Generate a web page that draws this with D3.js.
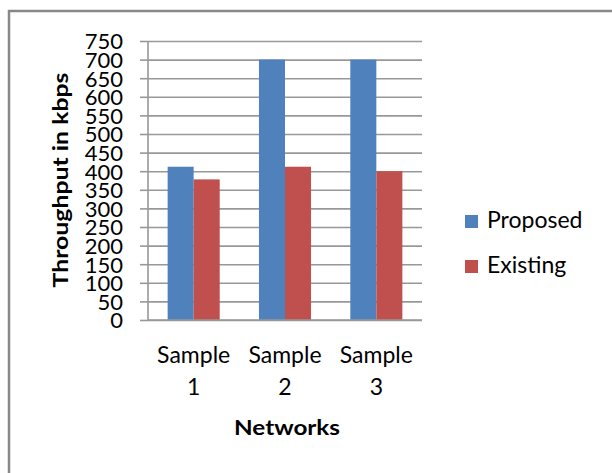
<!DOCTYPE html>
<html>
<head>
<meta charset="utf-8">
<script src="https://cdn.jsdelivr.net/npm/d3@7/dist/d3.min.js"></script>
<style>
  html, body { margin: 0; padding: 0; background: #fff; }
  svg { display: block; }
  text { font-family: Lato, "Open Sans", sans-serif; fill: #000; }
</style>
</head>
<body>
<svg id="chart" width="612" height="473"></svg>
<script>
// Throughput per network sample
const categories = ["Sample 1", "Sample 2", "Sample 3"];
const seriesNames = ["Proposed", "Existing"];
const proposed = [412, 700, 700];
const existing = [378, 412, 400];
const yTicks = [0, 50, 100, 150, 200, 250, 300, 350, 400, 450, 500, 550, 600, 650, 700, 750];
const colors = ["#4f81bd", "#c0504d"];

const svg = d3.select("#chart");

// chart-area frame (left and top edges)
svg.append("path")
  .attr("d", "M9,473 V11 H612")
  .attr("fill", "none")
  .attr("stroke", "#888")
  .attr("stroke-width", 2.5);

const plot = { left: 148, right: 422, top: 41, bottom: 320 };

const x0 = d3.scaleBand().domain(categories)
  .range([plot.left, plot.right]).paddingInner(0.43).paddingOuter(0.215);
const x1 = d3.scaleBand().domain(seriesNames).range([0, x0.bandwidth()]);
const y = d3.scaleLinear().domain([0, 750]).range([plot.bottom, plot.top]);

// horizontal gridlines with tick labels
const yAxis = d3.axisLeft(y).tickValues(yTicks)
  .tickSize(-(plot.right - plot.left)).tickPadding(0).tickFormat(d3.format("d"));
const gy = svg.append("g").attr("transform", `translate(${plot.left},0)`).call(yAxis);
gy.select(".domain").remove();
gy.selectAll(".tick line").attr("stroke", "#989898").attr("stroke-width", 1.6);
// short outside tick marks
gy.selectAll(".tick").append("line")
  .attr("x1", -8).attr("x2", 0)
  .attr("stroke", "#989898").attr("stroke-width", 1.6);
gy.selectAll(".tick text")
  .attr("x", -25)
  .attr("dy", "0.36em")
  .style("font-size", "22px")
  .style("font-family", "Lato, sans-serif")
  .attr("fill", "#000");

// vertical axis line
svg.append("line")
  .attr("x1", plot.left).attr("x2", plot.left)
  .attr("y1", plot.top).attr("y2", plot.bottom)
  .attr("stroke", "#989898").attr("stroke-width", 1.6);

// bars
const rows = categories.map((c, i) => ({ cat: c, vals: [proposed[i], existing[i]] }));
const groups = svg.append("g").selectAll("g").data(rows).join("g")
  .attr("transform", d => `translate(${x0(d.cat)},0)`);
groups.selectAll("rect")
  .data(d => d.vals.map((v, j) => ({ name: seriesNames[j], v, j })))
  .join("rect")
  .attr("x", d => x1(d.name))
  .attr("width", x1.bandwidth())
  .attr("y", d => y(d.v))
  .attr("height", d => y(0) - y(d.v))
  .attr("fill", d => colors[d.j]);

// bottom axis line
svg.append("line")
  .attr("x1", plot.left).attr("x2", plot.right)
  .attr("y1", plot.bottom).attr("y2", plot.bottom)
  .attr("stroke", "#989898").attr("stroke-width", 1.6);

// category labels on two lines
const catLabels = svg.append("g").selectAll("text").data(categories).join("text")
  .attr("text-anchor", "middle")
  .style("font-size", "23px")
  .attr("x", d => x0(d) + x0.bandwidth() / 2);
catLabels.append("tspan").attr("x", d => x0(d) + x0.bandwidth() / 2).attr("y", 363).text(d => d.split(" ")[0]);
catLabels.append("tspan").attr("x", d => x0(d) + x0.bandwidth() / 2).attr("y", 395).text(d => d.split(" ")[1]);

// axis titles
svg.append("text")
  .attr("x", 287).attr("y", 435)
  .attr("text-anchor", "middle")
  .style("font-size", "21px").style("font-weight", "bold")
  .attr("textLength", 106).attr("lengthAdjust", "spacingAndGlyphs")
  .text("Networks");

svg.append("text")
  .attr("transform", "translate(68,180) rotate(-90)")
  .attr("text-anchor", "middle")
  .style("font-size", "20px").style("font-weight", "bold")
  .attr("textLength", 215).attr("lengthAdjust", "spacingAndGlyphs")
  .text("Throughput in kbps");

// legend
const legend = svg.append("g").selectAll("g").data(seriesNames).join("g")
  .attr("transform", (d, i) => `translate(465,${215 + i * 45})`);
legend.append("rect").attr("width", 13).attr("height", 13).attr("fill", (d, i) => colors[i]);
legend.append("text").attr("x", 22).attr("y", 13).style("font-size", "23px").text(d => d);
</script>
</body>
</html>
